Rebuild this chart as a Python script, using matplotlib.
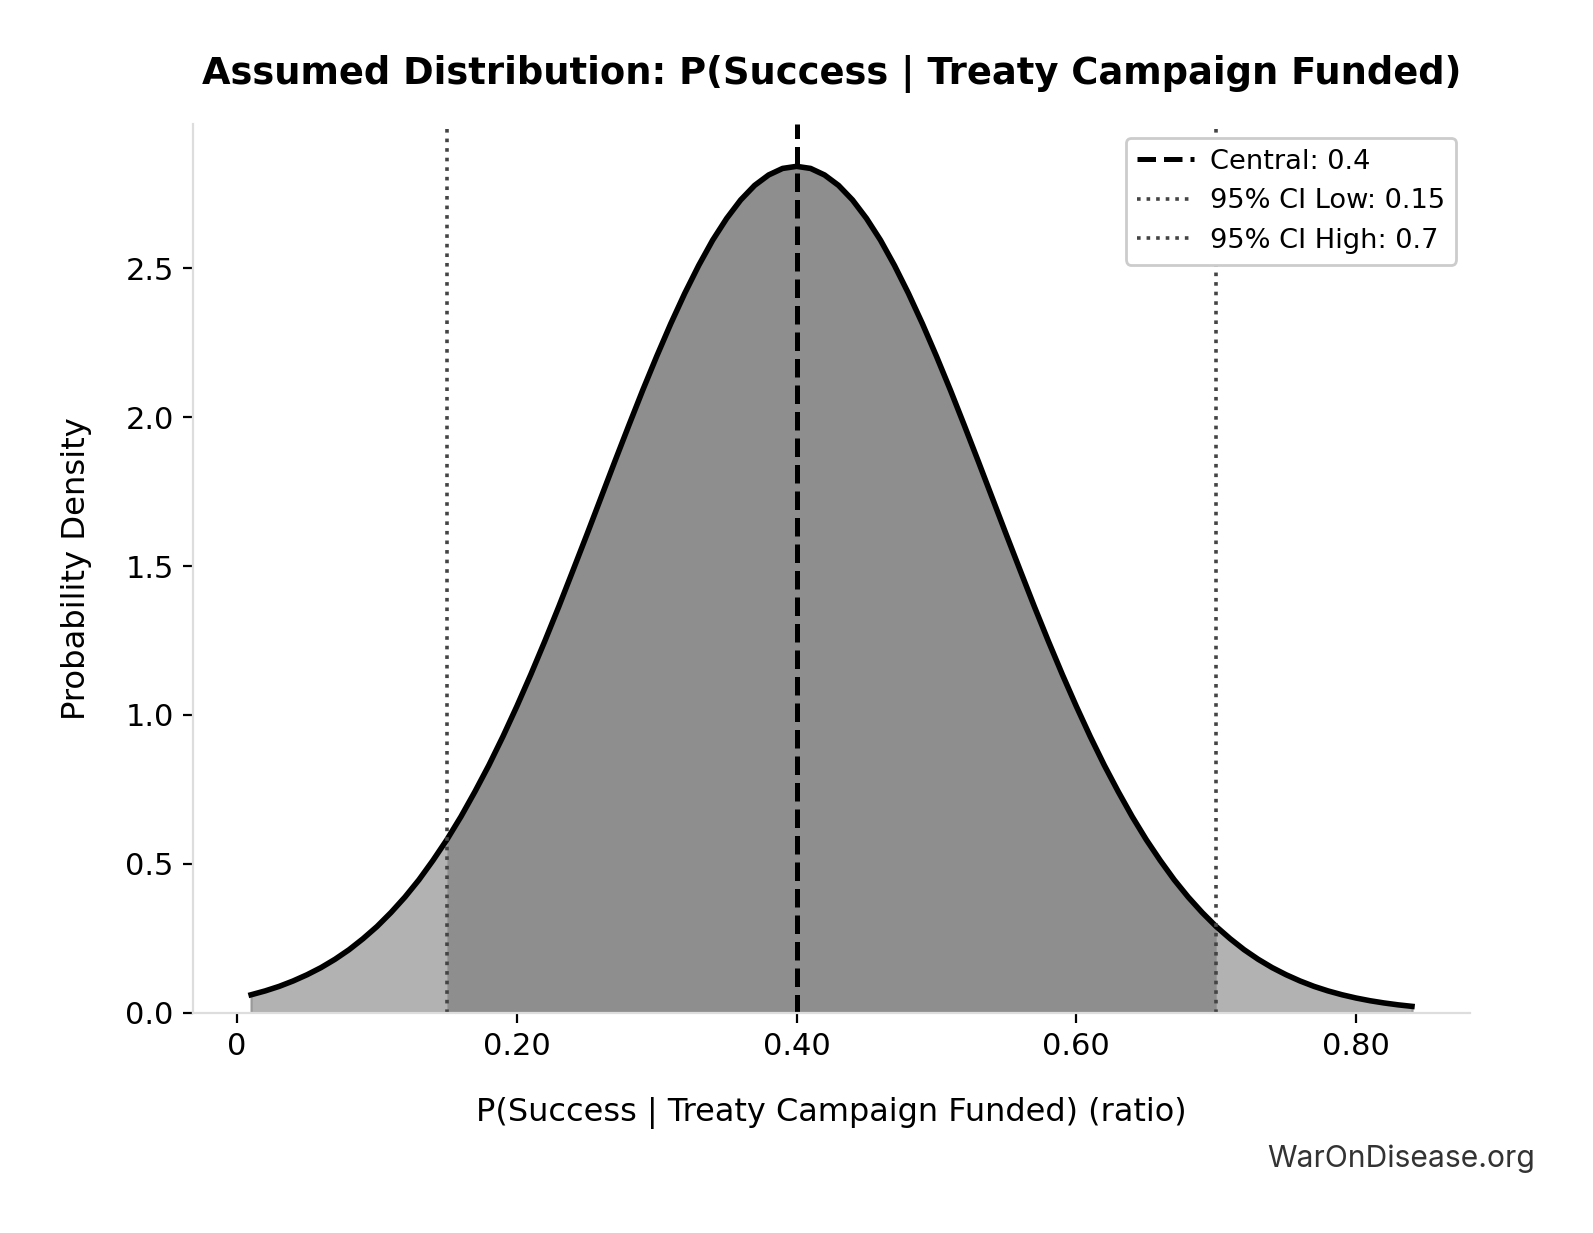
import matplotlib
matplotlib.use("Agg")
import matplotlib.pyplot as plt
from matplotlib.ticker import FixedFormatter

# density values (x step 0.01)
x_vals = [0.01, 0.02, 0.03, 0.04, 0.05, 0.06, 0.07, 0.08, 0.09, 0.10,
          0.11, 0.12, 0.13, 0.14, 0.15, 0.16, 0.17, 0.18, 0.19, 0.20,
          0.21, 0.22, 0.23, 0.24, 0.25, 0.26, 0.27, 0.28, 0.29, 0.30,
          0.31, 0.32, 0.33, 0.34, 0.35, 0.36, 0.37, 0.38, 0.39, 0.40,
          0.41, 0.42, 0.43, 0.44, 0.45, 0.46, 0.47, 0.48, 0.49, 0.50,
          0.51, 0.52, 0.53, 0.54, 0.55, 0.56, 0.57, 0.58, 0.59, 0.60,
          0.61, 0.62, 0.63, 0.64, 0.65, 0.66, 0.67, 0.68, 0.69, 0.70,
          0.71, 0.72, 0.73, 0.74, 0.75, 0.76, 0.77, 0.78, 0.79, 0.80,
          0.81, 0.82, 0.83, 0.84]
density = [0.0597, 0.0726, 0.0878, 0.106, 0.127, 0.151, 0.179, 0.211, 0.248, 0.289,
           0.336, 0.388, 0.446, 0.511, 0.581, 0.658, 0.742, 0.831, 0.927, 1.029,
           1.136, 1.248, 1.364, 1.484, 1.605, 1.728, 1.851, 1.972, 2.091, 2.205,
           2.314, 2.416, 2.510, 2.595, 2.668, 2.730, 2.779, 2.814, 2.836, 2.843,
           2.836, 2.814, 2.779, 2.730, 2.668, 2.595, 2.510, 2.416, 2.314, 2.205,
           2.091, 1.972, 1.851, 1.728, 1.605, 1.484, 1.364, 1.248, 1.136, 1.029,
           0.927, 0.831, 0.742, 0.658, 0.581, 0.511, 0.446, 0.388, 0.336, 0.289,
           0.248, 0.211, 0.179, 0.151, 0.127, 0.106, 0.0878, 0.0726, 0.0597, 0.0488,
           0.0397, 0.0322, 0.0259, 0.0208]

central = 0.4
ci_low = 0.15
ci_high = 0.7
x_ticks = [0, 0.2, 0.4, 0.6, 0.8]
x_tick_labels = ["0", "0.20", "0.40", "0.60", "0.80"]
y_ticks = [0.0, 0.5, 1.0, 1.5, 2.0, 2.5]

fig = plt.figure(figsize=(7.965, 6.165), dpi=200)
ax = fig.add_axes([0.1212, 0.1788, 0.8016, 0.7206])

# whole curve in light grey, CI band darker
ax.fill_between(x_vals, density, color="#b2b2b2", edgecolor="#9a9a9a", linewidth=0.8)
in_ci = [ci_low <= v <= ci_high for v in x_vals]
ax.fill_between(x_vals, density, where=in_ci, color="#8e8e8e", linewidth=0)
ax.plot(x_vals, density, color="black", linewidth=2)

ax.axvline(central, color="black", linestyle="--", linewidth=1.8, label=f"Central: {central}")
ax.axvline(ci_low, color="#444444", linestyle=":", linewidth=1.3, label=f"95% CI Low: {ci_low}")
ax.axvline(ci_high, color="#444444", linestyle=":", linewidth=1.3, label=f"95% CI High: {ci_high}")

ax.set_ylim(0, max(density) * 1.05)
ax.set_xticks(x_ticks)
ax.xaxis.set_major_formatter(FixedFormatter(x_tick_labels))
ax.set_yticks(y_ticks)
ax.tick_params(labelsize=11)

for s in ["top", "right"]:
    ax.spines[s].set_visible(False)
for s in ["left", "bottom"]:
    ax.spines[s].set_color("#dddddd")

ax.set_title("Assumed Distribution: P(Success | Treaty Campaign Funded)",
             fontsize=13.3, fontweight="bold", pad=14.5)
ax.set_xlabel("P(Success | Treaty Campaign Funded) (ratio)", fontsize=11.5, labelpad=13)
ax.set_ylabel("Probability Density", fontsize=11.6, labelpad=12)

ax.legend(loc="upper right", fontsize=9.8, framealpha=1, edgecolor="#cccccc",
          handlelength=2.1, handletextpad=0.6)

fig.text(0.9636, 0.0535, "WarOnDisease.org", ha="right", va="baseline",
         fontsize=10.8, color="#333333", family=["Inter", "DejaVu Sans"])

fig.savefig("out.png", dpi=200)
